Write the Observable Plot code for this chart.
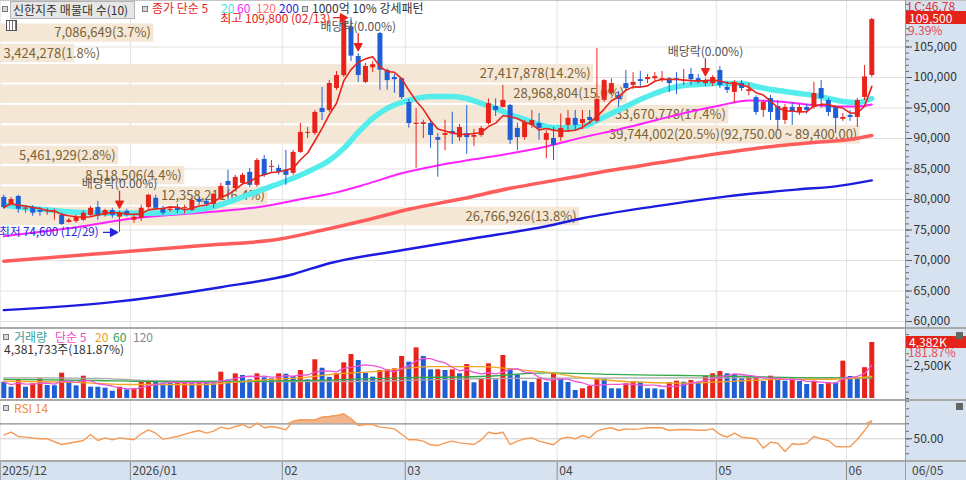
<!DOCTYPE html>
<html><head><meta charset="utf-8">
<script src="https://cdn.jsdelivr.net/npm/d3@7"></script>
<script src="https://cdn.jsdelivr.net/npm/@observablehq/plot@0.6"></script>
<style>
body{margin:0;background:#fff;}
#root{position:relative;width:966px;height:480px;overflow:hidden;background:#fff;font-family:"Noto Sans CJK KR","Noto Sans",sans-serif;font-size:12px;color:#333;}
.layer{position:absolute;left:0;}
.layer svg{display:block;}
.abs{position:absolute;white-space:nowrap;line-height:14px;font-size:12px;}
.sq{position:absolute;width:4px;height:4px;border:1px solid #7a7a7a;background:#d8d8d8;}
.hl{position:absolute;left:0;width:966px;background:#a9a9a9;}
</style></head><body><div id="root"></div>
<script>
// ---------- DATA ----------
const monthDays = [
  [2025, 12, [4,5,8,9,10,11,12,15,16,17,18,19,22,23,24,26,29,30]],
  [2026, 1, [2,5,6,7,8,9,12,13,14,15,16,19,20,21,22,23,26,27,28,29,30]],
  [2026, 2, [2,3,4,5,6,9,10,11,12,13,19,20,23,24,25,26,27]],
  [2026, 3, [3,4,5,6,9,10,11,12,13,16,17,18,19,20,23,24,25,26,27,30,31]],
  [2026, 4, [1,2,3,6,7,8,9,10,13,14,15,16,17,20,21,22,23,24,27,28,29,30]],
  [2026, 5, [4,6,7,8,11,12,13,14,15,18,19,20,21,22,26,27,28,29]],
  [2026, 6, [1,2,4,5]]
];
const monthLabels = ["2025/12","2026/01","02","03","04","05","06"];

const openP = [80350,79200,80500,78400,78700,78200,78050,77900,77400,76250,
 76400,76600,77400,78700,77400,78200,77100,78050,76600,76900,
 78700,80200,78550,78200,78700,78550,78200,80000,79700,79200,
 80200,82950,81800,82650,84450,82320,86570,85270,85100,84780,
 84290,87720,90830,90830,94930,94600,98200,100300,108300,103450,
 99200,101600,107200,101150,100000,99800,95900,92300,92300,92450,
 90150,90500,91150,90150,90800,90200,90500,92450,95250,95100,
 95400,91650,90150,92150,92450,89700,90000,90150,92150,93300,
 92450,93450,92800,96250,97400,97050,99000,98700,99650,99650,
 99800,99500,99800,99800,99350,100500,99800,99000,99000,101150,
 98400,97550,99000,97700,96700,94600,96550,95250,92960,95100,
 94300,95100,95100,98200,96230,95090,93130,93780,93450,96730,
 100330];
const highP = [80700,80350,80700,78900,79000,78700,78550,78400,77750,76900,
 77400,78100,78900,79700,78400,78550,78100,78400,77400,79050,
 80850,80700,78900,78700,79200,79050,80200,80350,80000,81000,
 82650,84800,83960,84300,85100,86700,87230,86400,85600,88050,
 88050,92460,91800,94600,98360,99510,100980,109700,109800,103900,
 102300,102600,107400,101400,100500,99900,96400,94900,93000,93000,
 90800,93000,94300,92300,95400,91500,92000,96500,96500,98700,
 95600,92500,92950,94600,94100,91300,91800,94000,94600,94600,
 94600,94600,104750,99650,99800,97700,101150,100800,101000,100500,
 100800,101000,100000,100800,101300,101500,100500,99800,100300,101800,
 99300,99500,99500,99000,97000,96200,97050,96200,95600,95900,
 95600,95600,99200,99500,96550,95400,94100,94600,96550,101960,
 109700];
const lowP = [78400,78900,77750,77750,77250,77250,77400,76600,75750,76100,
 76100,76400,77250,76600,77100,76900,74600,77100,76100,76400,
 78400,78200,77400,77900,77750,77600,78000,79050,78900,78550,
 79900,80350,81500,82300,82000,82000,83630,84450,84000,82320,
 83960,87560,90000,90500,92960,94270,97870,100000,102600,99200,
 99000,100800,97900,97900,97400,96400,91700,85100,90000,88400,
 83650,88000,89000,89500,87400,88700,90200,92200,93600,95000,
 89000,88000,89700,91650,89700,86700,86400,89500,91000,91200,
 91500,92300,92500,95900,97000,95100,97870,98000,98200,99000,
 99300,99200,97500,97200,98700,98700,98900,98500,98500,98200,
 97400,95900,97700,97000,93800,93450,92960,91300,92300,92150,
 93800,94000,94800,94950,93600,90830,92800,92800,91800,96230,
 100000];
const closeP = [78700,80000,78400,78600,77750,77900,78200,78050,75900,76600,
 77100,77750,78550,77250,78200,77400,77750,77400,77100,78550,
 80700,78550,77750,78400,78200,78700,79850,79550,79200,80850,
 82150,82300,83630,83960,82320,86410,83960,85430,84450,83960,
 87720,91000,91000,94270,94270,99020,100330,109300,103500,100330,
 101800,102100,101200,99500,99650,96700,92450,92500,92600,90500,
 89700,90800,90800,91800,90150,90500,91650,95700,94600,96250,
 89700,90150,92600,92950,91650,90800,88870,91650,93300,92150,
 93100,92950,96400,99500,99000,96400,98200,99200,99350,100000,
 100150,99800,99000,99500,99500,99650,99350,99500,100000,98700,
 97900,99200,98200,98000,94270,95900,94270,92960,95100,94300,
 95100,94600,97380,96560,94270,93290,93450,93450,96230,100100,
 109500];
// volume, thousands of shares
const volK = [1275,885,1460,886,1150,1540,1020,1000,1980,1275,
 990,1745,886,880,810,570,886,680,760,1350,
 1360,1275,1200,1190,1275,1290,1200,1230,1200,1180,
 2060,1460,1930,1800,1460,1930,1620,1540,1930,1900,
 1720,2190,1460,3030,2370,1650,1930,2790,3440,2975,
 1980,1670,2190,2240,2320,3290,2840,3960,3290,2240,
 2250,2190,2240,1930,2660,1230,1540,2715,1460,3365,
 2320,1850,1355,1250,1540,1250,1980,1540,1250,626,
 760,940,1540,1530,760,750,1150,1330,1275,760,
 750,680,1230,1355,1275,1410,1275,1745,1930,2110,
 1930,1880,1540,1620,1720,1330,1745,1410,1355,1540,
 1330,1095,1355,1095,1230,1220,2920,1720,1540,2410,
 4382];

// moving averages: [session index, value]
const ma20Pts = [[0,79050],[5,78390],[10,77900],[15,77740],[20,77740],[25,78060],[28,78550],[31,79540],[34,80850],[37,82160],[40,83470],[43,85100],[45,86410],[47,88380],[49,91000],[51,93290],[53,94930],[55,95910],[57,96560],[59,96890],[62,96890],[64,96560],[66,95740],[68,94930],[70,93940],[72,93130],[74,92310],[76,91820],[78,91820],[80,91980],[82,92960],[84,94110],[86,95250],[88,96400],[90,97380],[92,98200],[94,98690],[96,98850],[98,99020],[100,99020],[102,99020],[104,98530],[106,98040],[108,97710],[110,97380],[112,97050],[114,96560],[116,96070],[118,95910],[120,96560]];
const ma60Pts = [[0,73970],[10,75440],[18,76920],[28,77900],[36,78880],[41,80030],[46,81170],[50,82480],[55,84290],[60,85590],[65,86580],[70,87560],[75,88700],[80,90180],[85,91490],[90,92960],[95,94430],[99,95420],[103,96230],[107,96070],[111,95580],[115,95250],[118,95250],[120,95580]];
const ma120Pts = [[0,69880],[14,71190],[28,72500],[38,73480],[44,74950],[50,76590],[56,78390],[63,80030],[70,81830],[77,83300],[84,84780],[91,86090],[98,87400],[105,88540],[112,89360],[117,89850],[120,90500]];
const ma200Pts = [[0,61860],[15,63170],[30,65620],[40,67750],[45,69550],[55,71680],[65,73640],[75,75610],[80,76920],[90,78880],[100,80520],[110,81670],[115,82160],[120,83140]];
const volMa20Pts = [[0,1350],[9,1275],[18,1095],[27,1095],[32,1275],[36,1460],[41,1620],[46,1930],[50,2060],[55,2320],[59,2500],[66,2500],[70,2320],[75,2060],[80,1640],[84,1410],[89,1250],[94,1200],[98,1275],[103,1410],[107,1490],[112,1490],[117,1565],[120,1720]];
const volMa60Pts = [[0,1490],[13,1410],[20,1330],[32,1330],[41,1410],[46,1460],[50,1540],[55,1620],[66,1720],[75,2010],[84,1880],[94,1800],[103,1720],[112,1620],[120,1620]];
const volMa120Pts = [[0,1620],[13,1580],[20,1400],[32,1330],[46,1330],[55,1400],[66,1560],[80,1600],[94,1620],[107,1620],[120,1600]];
const rsiPts = [[0,55],[1,58.8],[2,53.1],[3,52.2],[5,50],[6,50],[8,42.4],[9,44.1],[11,47.7],[12,55.7],[13,47.7],[14,51.3],[15,48.7],[16,51.3],[17,50],[18,48.7],[19,56.7],[20,62],[21,57.5],[22,49.5],[23,51.3],[24,53.1],[26,58.8],[27,61.1],[28,57.5],[29,60.2],[30,65.5],[31,63.3],[33,69.1],[34,64.7],[35,70.8],[36,64.7],[37,66.4],[38,64.7],[39,62],[40,73.5],[41,75.3],[42,75],[43,75.3],[44,78.8],[45,79.7],[46,81],[47,83.3],[48,76.7],[49,67.7],[50,69.1],[51,69.1],[52,65.5],[53,64.5],[54,63.3],[55,56],[56,48.7],[57,48.7],[58,46.9],[59,42],[60,41],[61,44.6],[62,46.9],[63,44.6],[64,43.5],[65,42.4],[66,48.5],[67,58.8],[68,56.7],[69,58.8],[70,42.4],[71,46.9],[72,50],[73,51.3],[74,46.9],[76,42],[77,50],[78,52.2],[79,50],[80,54.4],[81,51.3],[82,60.2],[83,63.3],[84,64.7],[85,61.1],[86,63.3],[87,62.5],[88,63.3],[89,64.7],[90,64.7],[91,64.7],[92,61.1],[93,62],[94,62.5],[95,62],[96,61.5],[97,61.5],[98,63.3],[99,55.7],[100,52.2],[101,57.5],[102,52.2],[103,51],[104,50],[105,37.5],[106,45.5],[107,44.1],[108,33],[109,43.3],[110,42.4],[111,44.1],[112,53.1],[113,50],[114,47.7],[115,39.7],[116,39.2],[117,39.7],[118,49],[119,61],[120,74]];

// volume profile (매물대, 10 bands)
const bandLo = [75550,78890,82230,85570,88910,92250,95590,98930,102270,105610];
const bandHi = [78890,82230,85570,88910,92250,95590,98930,102270,105610,108950];
const bandVol = [26766926,12358211,8518506,5461929,39744002,33670778,28968804,27417878,3424278,7086649];
const maxBandRange = [92750, 89400];

const dividendIdx = [16, 49, 97];
const highIdx = 48, lowIdx = 16;

const priceTicks = [60000,65000,70000,75000,80000,85000,90000,95000,100000,105000];
const volTicks = [2500];
const rsiTicks = [50];

// ---------- BUILD ----------
const RED = "#e8231c", BLUE = "#1f5fd6";
const dates = [];
monthDays.forEach(([y, m, days]) => days.forEach(d => dates.push(new Date(y, m - 1, d))));
const candles = dates.map((date, i) => ({
  idx: i, date, open: openP[i], high: highP[i], low: lowP[i], close: closeP[i],
  vol: volK[i], volUp: i > 0 && volK[i] > volK[i - 1]
}));
let acc = 0;
const monthStarts = monthDays.map(([y, m, days], k) => { const o = {idx: acc, label: monthLabels[k]}; acc += days.length; return o; });
const candleColor = d => d.close >= d.open ? RED : BLUE;

const totalBand = d3.sum(bandVol), maxBand = d3.max(bandVol);
const fmt = d3.format(","), fmt2 = d3.format(",.2f");
const bands = bandVol.map((v, k) => {
  let label = `${fmt(v)}(${(v / totalBand * 100).toFixed(1)}%)`;
  if (v === maxBand) label += `(${fmt2(maxBandRange[0])} ~ ${fmt2(maxBandRange[1])})`;
  return {lo: bandLo[k], hi: bandHi[k], vol: v, label};
});
const bandDomainMax = maxBand / 0.95;
const plotW = 905;
const fits = d => d.vol / bandDomainMax * plotW > d.label.length * 7.1 + 6;

const W = 966, MR = 61;
const xDomain = [-0.456, 124.66];
const priceDomain = [58852, 112623];
const baseStyle = {background: "transparent", overflow: "visible", fontFamily: '"Noto Sans CJK KR","Noto Sans",sans-serif', fontSize: "12px", color: "#333"};
const toObj = pts => pts.map(([i, v]) => ({i, v}));

const arrowShape = {draw(ctx, l) {
  ctx.moveTo(0, 0); ctx.lineTo(0, -l + 6);
  ctx.moveTo(-3.8, -l + 7); ctx.lineTo(0, -l); ctx.lineTo(3.8, -l + 7); ctx.closePath();
}};

const root = document.getElementById("root");
function addLayer(el, top) { const d = document.createElement("div"); d.className = "layer"; d.style.top = top + "px"; d.appendChild(el); root.appendChild(d); }
function addDiv(cls, css, html) { const d = document.createElement("div"); d.className = cls; d.style.cssText = css; if (html != null) d.innerHTML = html; root.appendChild(d); return d; }

// backgrounds
addDiv("", "position:absolute;left:905px;top:0;width:61px;height:480px;background:#d6e2f0;");
addDiv("", "position:absolute;left:0;top:461px;width:966px;height:19px;background:#d6e2f0;");

// price base: grid + axis
addLayer(Plot.plot({
  width: W, height: 328, marginLeft: 0, marginRight: MR, marginTop: 0, marginBottom: 0,
  x: {domain: xDomain, axis: null}, y: {domain: priceDomain},
  style: baseStyle,
  marks: [
    Plot.ruleY(priceTicks, {stroke: "#e2e2e2"}),
    Plot.ruleX(monthStarts, {x: "idx", dx: -3.6, stroke: "#e2e2e2"}),
    Plot.axisY(priceTicks, {anchor: "right", tickFormat: fmt, tickSize: 6, tickPadding: 2, label: null, stroke: "#555"}),
    Plot.axisY(d3.range(59000, 112001, 1000), {anchor: "right", tickFormat: () => "", tickSize: 3, label: null, stroke: "#666"})
  ]
}), 0);

// volume profile bands
addLayer(Plot.plot({
  width: W, height: 328, marginLeft: 0, marginRight: MR, marginTop: 0, marginBottom: 0,
  x: {domain: [0, bandDomainMax], axis: null}, y: {domain: priceDomain, axis: null},
  style: baseStyle,
  marks: [
    Plot.rect(bands, {x1: 0, x2: "vol", y1: "lo", y2: "hi", fill: "#f4e7d6", insetTop: 1, insetBottom: 1}),
    Plot.text(bands.filter(fits), {x: "vol", y: d => (d.lo + d.hi) / 2, text: "label", textAnchor: "end", dx: -3, fill: "#7a6235", fontSize: 13}),
    Plot.text(bands.filter(d => !fits(d)), {x: 0, y: d => (d.lo + d.hi) / 2, text: "label", textAnchor: "start", dx: 3, fill: "#7a6235", fontSize: 13})
  ]
}), 0);

// price top: MAs, candles, annotations
const divData = dividendIdx.map(i => candles[i]);
addLayer(Plot.plot({
  width: W, height: 328, marginLeft: 0, marginRight: MR, marginTop: 0, marginBottom: 0,
  x: {domain: xDomain, axis: null}, y: {domain: priceDomain, axis: null},
  style: baseStyle,
  marks: [
    Plot.line(toObj(ma200Pts), {x: "i", y: "v", stroke: "#1c1ce0", strokeWidth: 2.4, curve: "monotone-x"}),
    Plot.line(toObj(ma120Pts), {x: "i", y: "v", stroke: "#ff5c5c", strokeWidth: 3.5, curve: "monotone-x"}),
    Plot.line(toObj(ma60Pts), {x: "i", y: "v", stroke: "#ff22ff", strokeWidth: 2, curve: "monotone-x"}),
    Plot.line(toObj(ma20Pts), {x: "i", y: "v", stroke: "#55ecec", strokeWidth: 5.5, curve: "monotone-x"}),
    Plot.ruleX(candles, {x: "idx", y1: "low", y2: "high", stroke: candleColor, strokeWidth: 1}),
    Plot.ruleX(candles, {x: "idx", y1: "open", y2: "close", stroke: candleColor, strokeWidth: 5}),
    Plot.lineY(candles, Plot.windowY({k: 5, anchor: "end", reduce: "mean"}, {x: "idx", y: "close", stroke: RED, strokeWidth: 1.6})),
    Plot.vector(divData, {x: "idx", y: "high", rotate: 180, length: 17, anchor: "end", dy: -3, stroke: RED, fill: RED, strokeWidth: 1.3, shape: arrowShape}),
    Plot.text(divData, {x: "idx", y: "high", text: () => "배당락(0.00%)", dy: -27, fill: "#555"}),
    Plot.vector([candles[highIdx]], {x: "idx", y: "high", rotate: 90, length: 14, anchor: "end", dx: -3.5, stroke: RED, fill: RED, strokeWidth: 1.3, shape: arrowShape}),
    Plot.text([candles[highIdx]], {x: "idx", y: "high", text: d => `최고 ${fmt(d.high)} (${d3.timeFormat("%m/%d")(d.date)})`, textAnchor: "end", dx: -20.5, dy: 1, fill: "#e8231c"}),
    Plot.vector([candles[lowIdx]], {x: "idx", y: "low", rotate: 90, length: 14, anchor: "end", dx: -2, stroke: "#2424e0", fill: "#2424e0", strokeWidth: 1.3, shape: arrowShape}),
    Plot.text([candles[lowIdx]], {x: "idx", y: "low", text: d => `최저 ${fmt(d.low)} (${d3.timeFormat("%m/%d")(d.date)})`, textAnchor: "end", dx: -21, fill: "#2424e0", fontSize: 11.5})
  ]
}), 0);

// volume panel
addLayer(Plot.plot({
  width: W, height: 72, marginLeft: 0, marginRight: MR, marginTop: 0, marginBottom: 2,
  x: {domain: xDomain, axis: null}, y: {domain: [0, 5477]},
  style: baseStyle,
  marks: [
    Plot.ruleX(monthStarts, {x: "idx", dx: -3.6, stroke: "#e2e2e2"}),
    Plot.ruleX(candles, {x: "idx", y1: 0, y2: "vol", stroke: d => d.volUp ? RED : BLUE, strokeWidth: 5}),
    Plot.line(toObj(volMa120Pts), {x: "i", y: "v", stroke: "#a8a8a8", strokeWidth: 1.3, curve: "monotone-x"}),
    Plot.line(toObj(volMa60Pts), {x: "i", y: "v", stroke: "#36a84a", strokeWidth: 1.3, curve: "monotone-x"}),
    Plot.line(toObj(volMa20Pts), {x: "i", y: "v", stroke: "#f2a825", strokeWidth: 1.3, curve: "monotone-x"}),
    Plot.lineY(candles, Plot.windowY({k: 5, anchor: "end", reduce: "mean"}, {x: "idx", y: "vol", stroke: "#ee55d8", strokeWidth: 1.3})),
    Plot.axisY(volTicks, {anchor: "right", tickFormat: d => fmt(d) + "K", tickSize: 6, tickPadding: 2, label: null, stroke: "#555"}),
    Plot.axisY(d3.range(0, 5001, 500), {anchor: "right", tickFormat: () => "", tickSize: 3, label: null, stroke: "#666"})
  ]
}), 328);

// RSI panel
const rsiData = toObj(rsiPts);
addLayer(Plot.plot({
  width: W, height: 61, marginLeft: 0, marginRight: MR, marginTop: 0, marginBottom: 0,
  x: {domain: xDomain, axis: null}, y: {domain: [19.7, 101.1]},
  style: baseStyle,
  marks: [
    Plot.ruleX(monthStarts, {x: "idx", dx: -3.6, stroke: "#e2e2e2"}),
    Plot.ruleY([50], {stroke: "#d0d0d0"}),
    Plot.ruleY([70], {stroke: "#8c8c8c", strokeWidth: 1.3}),
    Plot.areaY(rsiData, {x: "i", y1: 70, y2: d => Math.max(d.v, 70), fill: "#f3b58c"}),
    Plot.line(rsiData, {x: "i", y: "v", stroke: "#f59a55", strokeWidth: 1.4}),
    Plot.axisY(rsiTicks, {anchor: "right", tickFormat: d3.format(".2f"), tickSize: 6, tickPadding: 2, label: null, stroke: "#555"}),
    Plot.axisY(d3.range(30, 101, 10), {anchor: "right", tickFormat: () => "", tickSize: 3, label: null, stroke: "#666"})
  ]
}), 400);

// time axis strip
addLayer(Plot.plot({
  width: W, height: 19, marginLeft: 0, marginRight: MR, marginTop: 0, marginBottom: 0,
  x: {domain: xDomain, axis: null},
  style: baseStyle,
  marks: [
    Plot.ruleX(monthStarts, {x: "idx", dx: -3.6, stroke: "#8c8c8c"}),
    Plot.text(monthStarts, {x: "idx", text: "label", textAnchor: "start", dx: -1.5, fill: "#444"})
  ]
}), 461);

// separators
addDiv("hl", "top:0;height:1px;background:#c4c4c4;");
addDiv("hl", "top:327px;height:2px;");
addDiv("hl", "top:399px;height:2px;");
addDiv("hl", "top:460px;height:2px;");
addDiv("", "position:absolute;left:905px;top:0;width:1px;height:480px;background:#9a9a9a;");

// legends
addDiv("sq", "left:2px;top:6px;");
addDiv("abs", "left:10px;top:1px;width:121px;height:16px;line-height:16px;background:#e6e6e6;border:1px solid #b4b4b4;padding-left:2px;color:#333;", "신한지주 매물대 수(10)");
addDiv("sq", "left:142px;top:6px;");
addDiv("abs", "left:152px;top:1px;line-height:13px;color:#e8231c;", "종가 단순 5");
addDiv("abs", "left:221px;top:1px;line-height:13px;color:#3ee6e6;", "20");
addDiv("abs", "left:237px;top:1px;line-height:13px;color:#ff22ff;", "60");
addDiv("abs", "left:256px;top:1px;line-height:13px;color:#ff7070;", "120");
addDiv("abs", "left:279px;top:1px;line-height:13px;color:#2828e0;", "200");
addDiv("sq", "left:302px;top:6px;");
addDiv("abs", "left:312px;top:1px;line-height:13px;color:#333;", "1000억 10% 강세패턴");
addDiv("", "position:absolute;left:6px;top:20px;width:9px;height:9px;border:1px solid #555;background:repeating-linear-gradient(90deg,#fff 0 2px,#777 2px 3px),#fff;");

addDiv("sq", "left:3px;top:334px;");
addDiv("abs", "left:14px;top:330px;color:#3a9e9e;", "거래량");
addDiv("abs", "left:55px;top:330px;color:#e84ac8;", "단순 5");
addDiv("abs", "left:95px;top:330px;color:#f0a020;", "20");
addDiv("abs", "left:113px;top:330px;color:#30a050;", "60");
addDiv("abs", "left:133px;top:330px;color:#888;", "120");
addDiv("abs", "left:4px;top:342px;color:#333;", "4,381,733주(181.87%)");

addDiv("sq", "left:3px;top:405px;");
addDiv("abs", "left:14px;top:401px;color:#f08a40;", "RSI 14");

// right column labels
addDiv("abs", "left:908px;top:0px;line-height:11px;color:#e03030;", "LC:46.78");
addDiv("abs", "left:906px;top:11px;width:57px;height:13px;line-height:13px;background:#e5231b;color:#fff;padding-left:3px;", "109,500");
addDiv("abs", "left:908px;top:23px;color:#e84848;", "9.39%");
addDiv("abs", "left:906px;top:336px;width:57px;height:12px;line-height:12px;background:#e5231b;color:#fff;padding-left:3px;", "4,382K");
addDiv("abs", "left:908px;top:345px;color:#e85050;", "181.87%");
addDiv("", "position:absolute;left:956px;top:332px;width:7px;height:7px;background:#666;");
addDiv("", "position:absolute;left:956px;top:403px;width:7px;height:7px;background:#666;");
addDiv("abs", "left:912px;top:463px;color:#444;", "06/05");
</script></body></html>
